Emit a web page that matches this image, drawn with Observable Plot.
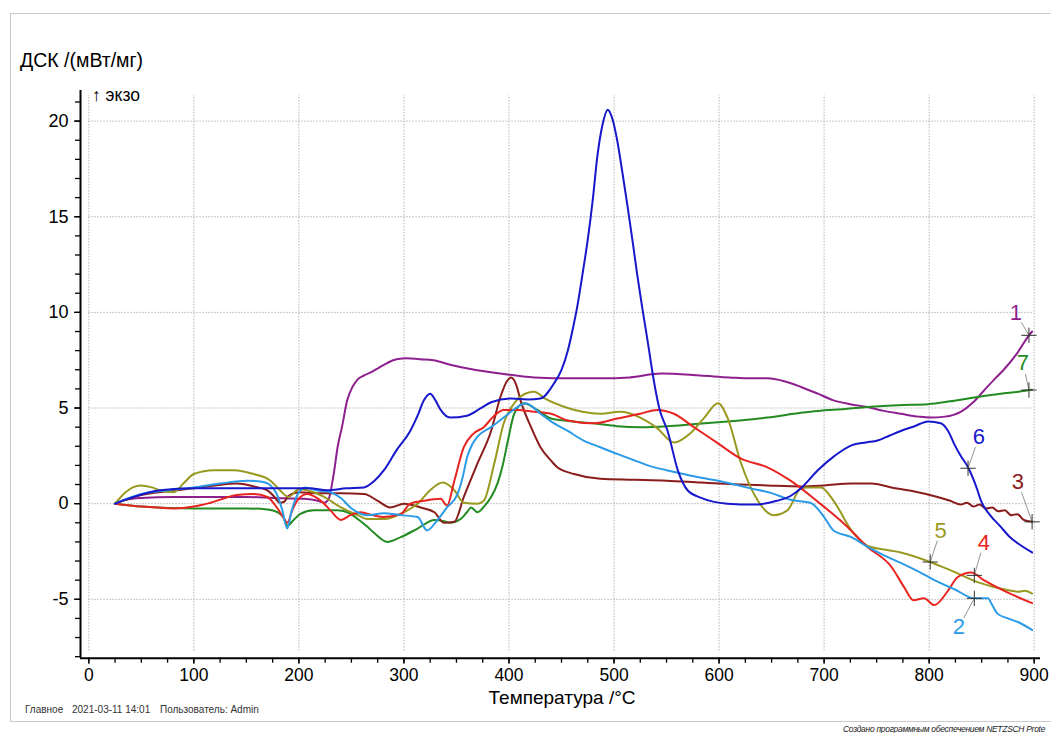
<!DOCTYPE html>
<html><head><meta charset="utf-8">
<script src="https://cdn.jsdelivr.net/npm/d3@7"></script>
<script src="https://cdn.jsdelivr.net/npm/@observablehq/plot@0.6"></script>
<style>
html,body{margin:0;padding:0;background:#fff;overflow:hidden;width:1051px;height:733px;}
#page{position:relative;width:1051px;height:733px;font-family:"Liberation Sans",Arial,sans-serif;color:#000;overflow:hidden;}
#frame{position:absolute;left:10px;top:13px;width:1100px;height:709px;border:1.5px solid #cacaca;border-right:none;box-sizing:border-box;}
#chart{position:absolute;left:0;top:0;}
.t{position:absolute;white-space:pre;transform:translateY(-50%);line-height:1;}
</style></head>
<body><div id="page">
<div id="frame"></div>
<div id="chart"></div>
<div class="t" style="left:20px;top:61px;font-size:19.5px;">ДСК /(мВт/мг)</div>
<div class="t" style="left:92px;top:96px;font-size:17.5px;">↑ экзо</div>
<div class="t" style="left:562px;top:697px;font-size:19px;transform:translate(-50%,-50%);">Температура /°C</div>
<div class="t" style="left:25px;top:710px;font-size:10px;color:#333;">Главное</div>
<div class="t" style="left:72px;top:710px;font-size:10px;color:#333;">2021-03-11 14:01</div>
<div class="t" style="left:160px;top:710px;font-size:10px;color:#333;">Пользователь: Admin</div>
<div class="t" style="left:843px;top:729px;font-size:8.5px;letter-spacing:-0.3px;font-style:italic;color:#222;">Создано программным обеспечением NETZSCH Prote</div>
</div>
<script>
// ---- Data (temperature °C, DSC mW/mg) ----
const series1 = [[25,0],[35,0.2],[50,0.3],[80,0.35],[120,0.35],[150,0.35],[176,0.3],[205,0.25],[218,0.15],[224,0.05],[228,0.2],[233,1.5],[237,3.0],[241,4.0],[246,5.4],[251,6.1],[256,6.5],[262,6.7],[268,6.85],[276,7.1],[284,7.35],[293,7.55],[303,7.6],[315,7.55],[328,7.5],[345,7.25],[367,7.0],[392,6.8],[424,6.6],[460,6.55],[487,6.55],[515,6.6],[545,6.8],[582,6.7],[610,6.6],[630,6.55],[646,6.55],[662,6.4],[678,6.1],[694,5.75],[709,5.4],[725,5.2],[741,5.05],[757,4.85],[773,4.7],[790,4.55],[801,4.5],[815,4.55],[830,4.8],[842,5.3],[852,5.9],[862,6.5],[871,7.0],[883,7.8],[895,8.8],[898,9.0]];
const series2 = [[25,0],[50,0.5],[75,0.7],[100,0.85],[125,1.05],[151,1.2],[165,1.15],[172,1.0],[179,0.5],[184,-0.3],[189,-1.3],[193,-0.4],[199,0.5],[206,0.85],[217,0.7],[230,0.6],[240,0.3],[249,-0.2],[265,-0.6],[281,-0.5],[297,-0.6],[313,-0.7],[322,-1.4],[332,-0.85],[341,-0.2],[351,0.5],[356,1.4],[360,2.4],[365,3.1],[370,3.5],[383,4.0],[395,4.5],[408,5.05],[416,5.25],[430,4.7],[440,4.3],[456,3.8],[471,3.3],[487,2.95],[503,2.6],[520,2.25],[535,1.95],[550,1.75],[566,1.55],[583,1.35],[599,1.2],[615,1.0],[630,0.8],[650,0.55],[668,0.2],[687,0.05],[700,-0.7],[709,-1.4],[726,-1.75],[741,-2.25],[757,-2.7],[773,-3.1],[790,-3.55],[805,-4.0],[825,-4.5],[843,-4.95],[856,-4.95],[860,-5.3],[865,-5.75],[875,-6.0],[885,-6.2],[898,-6.6]];
const series3 = [[25,0],[50,0.45],[75,0.65],[100,0.8],[120,0.95],[141,1.05],[157,0.9],[170,0.7],[176,0.4],[182,0.05],[186,0.1],[190,0.4],[200,0.6],[217,0.55],[240,0.55],[262,0.5],[275,0.15],[287,-0.2],[300,0.0],[316,-0.2],[329,-0.45],[338,-1.0],[348,-0.95],[357,0.35],[370,2.1],[383,3.8],[392,5.6],[398,6.4],[402,6.6],[407,6.2],[411,5.4],[421,4.0],[430,2.95],[440,2.25],[446,1.9],[462,1.55],[487,1.3],[519,1.25],[550,1.2],[583,1.1],[620,1.0],[646,0.95],[678,0.9],[700,0.95],[726,1.05],[745,1.05],[764,0.85],[785,0.65],[808,0.35],[820,0.15],[830,-0.05],[836,0.05],[842,-0.15],[848,-0.05],[854,-0.25],[860,-0.2],[866,-0.4],[872,-0.35],[878,-0.6],[884,-0.55],[890,-0.85],[898,-0.95]];
const series4 = [[25,0],[50,-0.15],[81,-0.25],[100,-0.15],[116,0.05],[141,0.45],[157,0.5],[170,0.35],[179,-0.2],[185,-0.7],[189,-1.0],[194,-0.3],[199,0.2],[208,0.5],[217,0.3],[224,0.0],[230,-0.35],[240,-0.85],[249,-0.6],[259,-0.45],[270,-0.6],[281,-0.7],[297,-0.55],[306,0.0],[319,0.15],[335,0.25],[341,-0.1],[348,1.2],[357,2.95],[366,3.65],[376,4.0],[386,4.6],[395,4.9],[408,4.9],[424,4.8],[440,4.7],[456,4.35],[481,4.2],[503,4.45],[525,4.7],[541,4.9],[557,4.7],[576,4.0],[599,3.15],[621,2.35],[646,1.9],[668,1.2],[694,0.1],[719,-1.05],[741,-2.25],[764,-3.3],[776,-4.35],[785,-5.05],[795,-4.95],[805,-5.3],[818,-4.55],[827,-3.85],[840,-3.6],[852,-4.0],[871,-4.55],[898,-5.2]];
const series5 = [[25,0],[35,0.6],[49,0.95],[60,0.85],[68,0.7],[81,0.6],[90,1.05],[100,1.55],[119,1.75],[138,1.75],[157,1.55],[173,1.2],[182,0.7],[190,0.35],[200,0.75],[208,0.7],[224,0.35],[240,-0.2],[256,-0.6],[265,-0.8],[281,-0.8],[300,-0.45],[313,0.0],[325,0.7],[337,1.1],[348,0.7],[357,0.05],[370,0.0],[376,0.15],[386,2.1],[395,4.2],[405,5.25],[418,5.8],[424,5.85],[434,5.5],[456,5.0],[470,4.8],[487,4.7],[506,4.8],[525,4.5],[541,3.95],[557,3.2],[573,3.7],[586,4.5],[599,5.25],[608,4.5],[621,2.1],[637,0.15],[652,-0.6],[665,-0.35],[678,0.8],[684,0.85],[697,0.85],[709,0.15],[726,-1.4],[741,-2.2],[757,-2.4],[773,-2.55],[801,-3.05],[821,-3.5],[846,-4.1],[878,-4.55],[885,-4.6],[891,-4.55],[898,-4.7]];
const series6 = [[25,0],[40,0.3],[68,0.7],[100,0.8],[150,0.8],[195,0.8],[210,0.8],[227,0.7],[245,0.8],[262,0.85],[272,1.2],[281,1.75],[293,2.8],[306,3.8],[313,4.6],[319,5.4],[325,5.75],[330,5.4],[335,4.9],[344,4.5],[360,4.6],[372,4.95],[383,5.3],[402,5.5],[418,5.45],[430,5.5],[443,6.3],[450,7.0],[456,8.0],[461,9.2],[465,10.3],[470,12.0],[475,13.8],[480,16.0],[484,18.1],[489,19.8],[494,20.6],[498,20.2],[503,19.0],[508,17.3],[513,15.5],[518,13.6],[522,12.0],[527,10.2],[532,8.5],[538,6.4],[543,5.0],[551,3.8],[561,1.7],[570,0.7],[583,0.3],[608,0.0],[633,-0.05],[655,0.15],[668,0.4],[678,0.8],[694,1.75],[710,2.5],[726,3.05],[740,3.2],[751,3.3],[762,3.55],[773,3.8],[786,4.05],[799,4.3],[811,4.2],[818,3.8],[824,3.1],[830,2.5],[837,1.9],[846,0.7],[849,0.2],[858,-0.6],[868,-1.2],[876,-1.7],[885,-2.1],[898,-2.55]];
const series7 = [[25,0],[50,-0.15],[100,-0.25],[150,-0.25],[170,-0.3],[180,-0.45],[185,-0.7],[189,-1.15],[195,-0.85],[201,-0.55],[214,-0.35],[237,-0.35],[248,-0.5],[256,-0.8],[265,-1.2],[272,-1.55],[284,-2.0],[297,-1.75],[313,-1.3],[329,-0.85],[337,-0.9],[344,-1.0],[354,-0.8],[360,-0.45],[364,-0.2],[370,-0.45],[377,-0.1],[383,0.35],[389,1.05],[394,2.0],[399,3.3],[405,4.7],[414,5.25],[427,4.9],[440,4.45],[460,4.3],[480,4.2],[503,4.05],[525,4.0],[551,4.05],[575,4.15],[599,4.25],[620,4.35],[646,4.5],[678,4.75],[694,4.85],[720,4.95],[741,5.05],[770,5.15],[799,5.2],[820,5.35],[837,5.5],[855,5.65],[868,5.75],[885,5.85],[898,5.95]];

const seriesNames = ["1","2","3","4","5","6","7"];
const seriesColors = ["#8e1f8e","#2b9be8","#8b1c1c","#e82420","#999920","#1717cc","#228b22"];
const allSeries = [series1,series2,series3,series4,series5,series6,series7];

// curve labels: label text position and marked point
const labelX = [882.6, 828.3, 884.5, 852, 811, 847.3, 889.3];
const labelY = [9.96, -6.46, 1.12, -2.03, -1.41, 3.48, 7.33];
const markX  = [895, 843, 898, 843, 801, 837, 895];
const markY  = [8.8, -4.95, -0.95, -3.75, -3.05, 1.85, 5.94];

const majorX = [0,100,200,300,400,500,600,700,800,900];
const minorX = d3.range(0, 901, 25);
const majorY = [-5,0,5,10,15,20];
const minorY = d3.range(-8, 22, 1);

const xDomain = [-7.9, 906];
const yDomain = [-8.08, 21.6];

const table = allSeries.flatMap((s, i) => s.map(([x, y]) => ({x, y, id: seriesNames[i]})));
const labels = seriesNames.map((n, i) => ({n, lx: labelX[i], ly: labelY[i], mx: markX[i], my: markY[i], c: seriesColors[i]}));
const drawOrder = [0,6,2,4,3,1,5];

const chart = Plot.plot({
  width: 1051, height: 733,
  marginLeft: 80, marginRight: 11, marginTop: 90, marginBottom: 75.3,
  x: {domain: xDomain},
  y: {domain: yDomain},
  style: {fontFamily: '"Liberation Sans", Arial, sans-serif', fontSize: "17px", color: "#000", background: "transparent"},
  marks: [
    Plot.ruleX(majorX, {y1: -7.7, y2: 21.35, stroke: "#b5b5b5", strokeWidth: 1, strokeDasharray: "1.5,1.5"}),
    Plot.ruleY(majorY, {x1: 0, x2: 900, stroke: "#b5b5b5", strokeWidth: 1, strokeDasharray: "1.5,1.5"}),
    ...drawOrder.map(i => Plot.line(table.filter(d => d.id === seriesNames[i]), {x: "x", y: "y", stroke: seriesColors[i], strokeWidth: 2, curve: "monotone-x"})),
    Plot.arrow(labels, {x1: "lx", y1: "ly", x2: "mx", y2: "my", stroke: "#777", strokeWidth: 0.8, headLength: 0, insetStart: 11}),
    Plot.dot(labels, {x: "mx", y: "my", symbol: "plus", r: 5, stroke: "#333", strokeWidth: 1}),
    Plot.text(labels, {x: "lx", y: "ly", text: "n", fill: "c", fontSize: 22}),
    Plot.axisX({ticks: minorX, tickSize: 5, tickFormat: () => "", label: null, strokeWidth: 1.3}),
    Plot.axisX({ticks: majorX, tickSize: 6, tickPadding: 4, fontSize: 17.5, label: null, strokeWidth: 1.3, tickFormat: d => String(d)}),
    Plot.axisY({ticks: minorY, tickSize: 5, tickFormat: () => "", label: null, strokeWidth: 1.3}),
    Plot.axisY({ticks: majorY, tickSize: 6, tickPadding: 6, fontSize: 18, label: null, strokeWidth: 1.3, tickFormat: d => String(d)}),
    Plot.ruleX([xDomain[0]], {y1: yDomain[0], y2: yDomain[1], stroke: "#000", strokeWidth: 2}),
    Plot.ruleY([yDomain[0]], {x1: xDomain[0], x2: xDomain[1], stroke: "#000", strokeWidth: 2})
  ]
});
document.getElementById("chart").appendChild(chart);
</script>
</body></html>
